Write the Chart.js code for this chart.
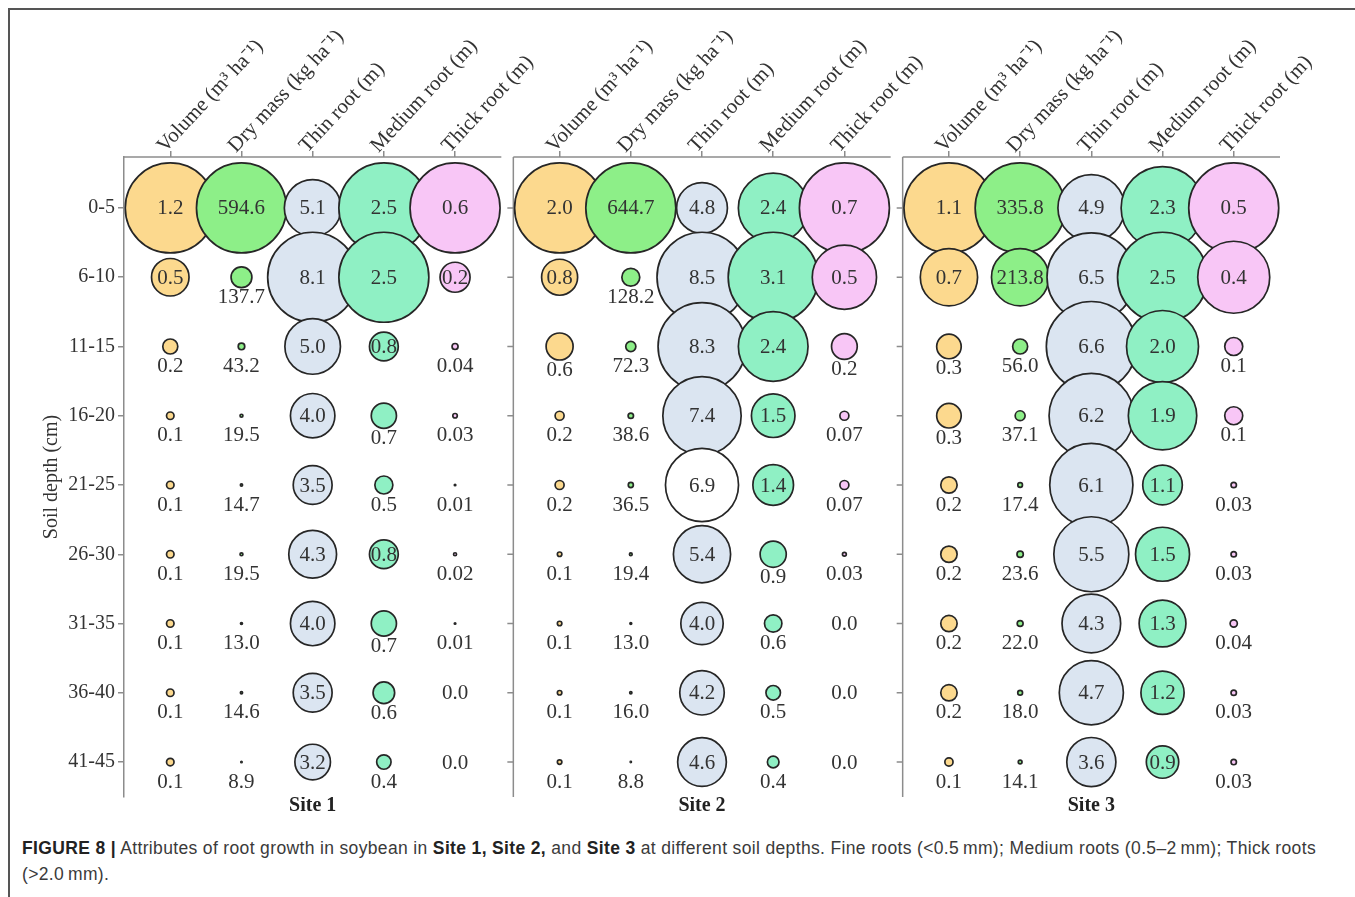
<!DOCTYPE html>
<html>
<head>
<meta charset="utf-8">
<script src="https://cdn.jsdelivr.net/npm/chart.js@4.4.1/dist/chart.umd.min.js"></script>
<style>
  html, body { margin: 0; padding: 0; background: #fff; width: 1355px; height: 897px; overflow: hidden; }
  #frame { position: absolute; left: 8px; top: 8px; width: 1400px; height: 1000px;
           border-top: 2px solid #555; border-left: 2px solid #555; box-sizing: border-box; }
  #plot { position: absolute; left: 0; top: 0; width: 1355px; height: 822px; }
  #caption { position: absolute; left: 22px; top: 835px; width: 1330px;
             font-family: 'Liberation Sans', Arial, sans-serif; font-size: 17.5px; letter-spacing: 0.35px;
             line-height: 26px; color: #3a3a3a; white-space: nowrap; }
  #caption b { color: #222; }
</style>
</head>
<body>
<div id="frame"></div>
<div id="plot"><canvas id="chart" width="1355" height="822"></canvas></div>
<div id="caption"><b>FIGURE 8 |</b> Attributes of root growth in soybean in <b>Site 1, Site 2,</b> and <b>Site 3</b> at different soil depths. Fine roots (&lt;0.5&thinsp;mm); Medium roots (0.5–2&thinsp;mm); Thick roots<br>(&gt;2.0&thinsp;mm).</div>
<script>
// Soil depth classes (cm), top to bottom
const depths = ['0-5', '6-10', '11-15', '16-20', '21-25', '26-30', '31-35', '36-40', '41-45'];
// Root attributes, one column each
const measures = ['Volume (m³ ha⁻¹)', 'Dry mass (kg ha⁻¹)', 'Thin root (m)', 'Medium root (m)', 'Thick root (m)'];
const sites = ['Site 1', 'Site 2', 'Site 3'];

// Site 1
const site1Volume  = [1.2, 0.5, 0.2, 0.1, 0.1, 0.1, 0.1, 0.1, 0.1];
const site1DryMass = [594.6, 137.7, 43.2, 19.5, 14.7, 19.5, 13.0, 14.6, 8.9];
const site1Thin    = [5.1, 8.1, 5.0, 4.0, 3.5, 4.3, 4.0, 3.5, 3.2];
const site1Medium  = [2.5, 2.5, 0.8, 0.7, 0.5, 0.8, 0.7, 0.6, 0.4];
const site1Thick   = [0.6, 0.2, 0.04, 0.03, 0.01, 0.02, 0.01, 0.0, 0.0];

// Site 2
const site2Volume  = [2.0, 0.8, 0.6, 0.2, 0.2, 0.1, 0.1, 0.1, 0.1];
const site2DryMass = [644.7, 128.2, 72.3, 38.6, 36.5, 19.4, 13.0, 16.0, 8.8];
const site2Thin    = [4.8, 8.5, 8.3, 7.4, 6.9, 5.4, 4.0, 4.2, 4.6];
const site2Medium  = [2.4, 3.1, 2.4, 1.5, 1.4, 0.9, 0.6, 0.5, 0.4];
const site2Thick   = [0.7, 0.5, 0.2, 0.07, 0.07, 0.03, 0.0, 0.0, 0.0];

// Site 3
const site3Volume  = [1.1, 0.7, 0.3, 0.3, 0.2, 0.2, 0.2, 0.2, 0.1];
const site3DryMass = [335.8, 213.8, 56.0, 37.1, 17.4, 23.6, 22.0, 18.0, 14.1];
const site3Thin    = [4.9, 6.5, 6.6, 6.2, 6.1, 5.5, 4.3, 4.7, 3.6];
const site3Medium  = [2.3, 2.5, 2.0, 1.9, 1.1, 1.5, 1.3, 1.2, 0.9];
const site3Thick   = [0.5, 0.4, 0.1, 0.1, 0.03, 0.03, 0.04, 0.03, 0.03];

const siteSeries = [
  [site1Volume, site1DryMass, site1Thin, site1Medium, site1Thick],
  [site2Volume, site2DryMass, site2Thin, site2Medium, site2Thick],
  [site3Volume, site3DryMass, site3Thin, site3Medium, site3Thick]
];

// ---- styling ----
const FILLS = ['#fcd98e', '#8def88', '#dbe5f1', '#8ff0c4', '#f8c6f6'];
const OUTLINE = '#262626';
const AXIS = '#8c8c8c';
const TEXT = '#333333';
const SERIF = "'Liberation Serif', 'Times New Roman', serif";
const MAX_R = 45;              // radius of the largest bubble in each column
const INSIDE_MIN_R = 14;       // smaller bubbles get their value written underneath
// [site, column, row] cells drawn as open circles
const openCells = [[1, 2, 4]];

// ---- x layout: three panels of five columns ----
const PANEL_SPAN = 5.3;
const PANEL_GAP = 0.1686;
const PANEL_STEP = PANEL_SPAN + PANEL_GAP;
const COL_START = 0.65;
const X_MAX = 3 * PANEL_SPAN + 2 * PANEL_GAP;
const colX = (s, c) => s * PANEL_STEP + COL_START + c;
const columnTicks = [];
sites.forEach((_, s) => measures.forEach((__, c) => columnTicks.push(colX(s, c))));
const siteCenters = sites.map((_, s) => s * PANEL_STEP + PANEL_SPAN / 2);

const fmt = v => (v > 0 && v < 0.1) ? v.toFixed(2) : v.toFixed(1);

const datasets = [];
siteSeries.forEach((cols, s) => {
  cols.forEach((vals, c) => {
    const top = Math.max(...vals);
    datasets.push({
      label: sites[s] + ' ' + measures[c],
      order: 5 - c,
      data: vals.map((v, i) => ({ x: colX(s, c), y: i, r: v / top * MAX_R, v })),
      backgroundColor: ctx => openCells.some(([os, oc, or]) => os === s && oc === c && or === ctx.dataIndex) ? '#ffffff' : FILLS[c],
      borderColor: OUTLINE,
      borderWidth: ctx => (ctx.raw && ctx.raw.r > 0) ? 1.7 : 0,
      clip: false
    });
  });
});

// Value labels: inside large bubbles, underneath small ones
const valueLabels = {
  id: 'valueLabels',
  afterDatasetsDraw(chart) {
    const { ctx } = chart;
    ctx.save();
    ctx.font = '21px ' + SERIF;
    ctx.fillStyle = TEXT;
    ctx.textAlign = 'center';
    ctx.textBaseline = 'middle';
    chart.data.datasets.forEach((ds, di) => {
      const meta = chart.getDatasetMeta(di);
      meta.data.forEach((el, i) => {
        const p = ds.data[i];
        let y = el.y;
        if (p.r > 0 && p.r < INSIDE_MIN_R) y = el.y + Math.max(19, p.r + 9);
        ctx.fillText(fmt(p.v), el.x, y + 1);
      });
    });
    ctx.restore();
  }
};

// Panel frames for Site 2 and Site 3, plus the top rule of every panel
const panelFrames = {
  id: 'panelFrames',
  beforeDatasetsDraw(chart) {
    const { ctx, chartArea, scales: { x, y } } = chart;
    ctx.save();
    ctx.strokeStyle = AXIS;
    ctx.lineWidth = 1.5;
    sites.forEach((_, s) => {
      const l = x.getPixelForValue(s * PANEL_STEP);
      const r = x.getPixelForValue(s * PANEL_STEP + PANEL_SPAN);
      ctx.beginPath();
      ctx.moveTo(l, chartArea.top);
      ctx.lineTo(r, chartArea.top);
      ctx.stroke();
      if (s > 0) {
        ctx.beginPath();
        ctx.moveTo(l, chartArea.top);
        ctx.lineTo(l, chartArea.bottom);
        depths.forEach((d, i) => {
          const py = y.getPixelForValue(i);
          ctx.moveTo(l - 6, py);
          ctx.lineTo(l, py);
        });
        ctx.stroke();
      }
    });
    ctx.restore();
  }
};

new Chart(document.getElementById('chart'), {
  type: 'bubble',
  data: { datasets },
  plugins: [panelFrames, valueLabels],
  options: {
    responsive: false,
    animation: false,
    events: [],
    devicePixelRatio: 1,
    layout: { autoPadding: false, padding: { left: 30, right: 75, top: 0, bottom: 0 } },
    plugins: { legend: { display: false }, tooltip: { enabled: false } },
    scales: {
      x: {
        type: 'linear',
        position: 'top',
        min: 0,
        max: X_MAX,
        afterBuildTicks: s => { s.ticks = columnTicks.map(value => ({ value })); },
        afterFit: s => { s.height = 157; s.paddingLeft = 0; s.paddingRight = 0; },
        border: { display: false },
        grid: { drawOnChartArea: false, drawTicks: true, tickLength: 6, color: AXIS, lineWidth: 1.5 },
        ticks: {
          autoSkip: false, minRotation: 47, maxRotation: 47, padding: -7, labelOffset: 9,
          color: TEXT, font: { family: SERIF, size: 21 },
          callback: (v, i) => measures[i % measures.length]
        }
      },
      x2: {
        type: 'linear',
        position: 'bottom',
        min: 0,
        max: X_MAX,
        afterBuildTicks: s => { s.ticks = siteCenters.map(value => ({ value })); },
        afterFit: s => { s.height = 25; s.paddingLeft = 0; s.paddingRight = 0; },
        border: { display: false },
        grid: { display: false, drawTicks: false },
        ticks: {
          autoSkip: false, maxRotation: 0, padding: 0,
          color: '#222', font: { family: SERIF, size: 20, weight: 'bold', lineHeight: 0.9 },
          callback: (v, i) => sites[i]
        }
      },
      y: {
        type: 'linear',
        position: 'left',
        reverse: true,
        min: -0.736,
        max: 8.505,
        afterBuildTicks: s => { s.ticks = depths.map((_, value) => ({ value })); },
        afterFit: s => { s.width = 94; s.paddingTop = 0; s.paddingBottom = 0; },
        border: { display: true, color: AXIS, width: 1.5 },
        grid: { drawOnChartArea: false, drawTicks: true, tickLength: 6, color: AXIS, lineWidth: 1.5 },
        ticks: {
          autoSkip: false, padding: 3, color: TEXT, font: { family: SERIF, size: 20 },
          callback: v => depths[v]
        },
        title: {
          display: true, text: 'Soil depth (cm)', color: TEXT,
          font: { family: SERIF, size: 20 }, padding: { top: 10, bottom: 0 }
        }
      }
    }
  }
});
</script>
</body>
</html>
